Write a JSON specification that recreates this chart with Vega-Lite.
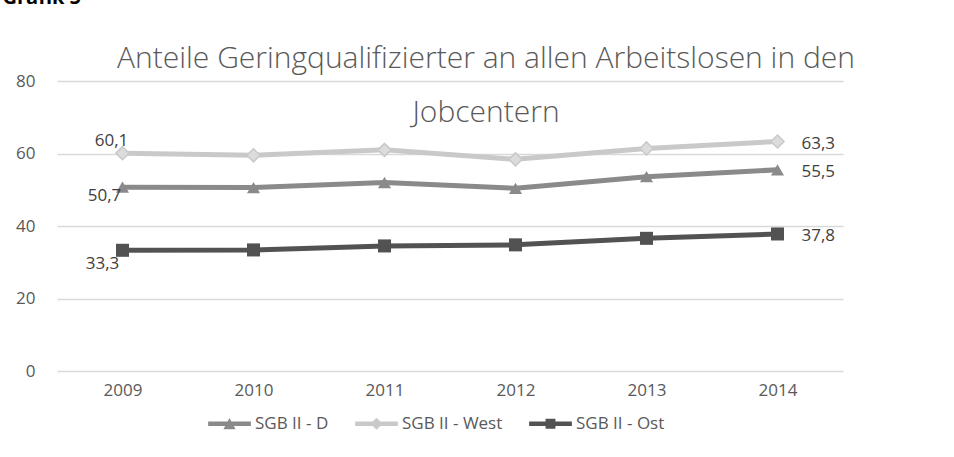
{
  "$schema": "https://vega.github.io/schema/vega-lite/v6.json",
  "width": 786,
  "height": 290,
  "autosize": {"type": "none"},
  "padding": {"left": 57, "top": 81, "right": 111, "bottom": 86},
  "background": "white",
  "config": {
    "font": "Open Sans",
    "view": {"stroke": null},
    "locale": {"number": {"decimal": ",", "thousands": ".", "grouping": [3], "currency": ["", " €"]}},
    "axis": {"labelFont": "Open Sans", "labelFontSize": 17, "labelColor": "#595959"}
  },
  "title": {
    "text": ["Anteile Geringqualifizierter an allen Arbeitslosen in den", "Jobcentern"],
    "anchor": "middle",
    "orient": "top",
    "offset": -57,
    "dy": 84,
    "dx": 36,
    "fontSize": 30,
    "fontWeight": 300,
    "font": "Open Sans",
    "color": "#595959",
    "lineHeight": 54
  },
  "data": {
    "values": [
      {"year": "2009", "series": "SGB II - D", "value": 50.7},
      {"year": "2010", "series": "SGB II - D", "value": 50.6},
      {"year": "2011", "series": "SGB II - D", "value": 52.0},
      {"year": "2012", "series": "SGB II - D", "value": 50.4},
      {"year": "2013", "series": "SGB II - D", "value": 53.6},
      {"year": "2014", "series": "SGB II - D", "value": 55.5},
      {"year": "2009", "series": "SGB II - West", "value": 60.1},
      {"year": "2010", "series": "SGB II - West", "value": 59.5},
      {"year": "2011", "series": "SGB II - West", "value": 61.0},
      {"year": "2012", "series": "SGB II - West", "value": 58.4},
      {"year": "2013", "series": "SGB II - West", "value": 61.4},
      {"year": "2014", "series": "SGB II - West", "value": 63.3},
      {"year": "2009", "series": "SGB II - Ost", "value": 33.3},
      {"year": "2010", "series": "SGB II - Ost", "value": 33.4},
      {"year": "2011", "series": "SGB II - Ost", "value": 34.5},
      {"year": "2012", "series": "SGB II - Ost", "value": 34.8},
      {"year": "2013", "series": "SGB II - Ost", "value": 36.6},
      {"year": "2014", "series": "SGB II - Ost", "value": 37.8}
    ]
  },
  "encoding": {
    "x": {
      "field": "year", "type": "ordinal",
      "scale": {"type": "point", "padding": 0.5},
      "axis": {"title": null, "labelAngle": 0, "domain": false, "ticks": false, "labelPadding": 11, "grid": false}
    },
    "y": {
      "field": "value", "type": "quantitative",
      "scale": {"domain": [0, 80], "nice": false},
      "axis": {
        "values": [0, 20, 40, 60, 80],
        "domain": false, "ticks": false, "labelPadding": 22,
        "gridColor": "#d9d9d9", "gridWidth": 1.5,
        "title": "Grafik 5", "titleAngle": 0, "titleAlign": "left", "titleBaseline": "alphabetic",
        "titleX": -55, "titleY": -78, "titleFontSize": 20, "titleFontWeight": "bold", "titleColor": "#000000", "titleFont": "Open Sans"
      }
    }
  },
  "resolve": {"scale": {"shape": "independent", "color": "independent"}},
  "layer": [
    {
      "mark": {"type": "line", "strokeWidth": 5},
      "encoding": {
        "color": {"field": "series", "type": "nominal",
          "scale": {"domain": ["SGB II - D", "SGB II - West", "SGB II - Ost"], "range": ["#8a8a8a", "#c9c9c9", "#525252"]},
          "legend": null}
      }
    },
    {
      "mark": {"type": "point", "filled": true, "opacity": 1},
      "encoding": {
        "color": {"field": "series", "type": "nominal",
          "scale": {"domain": ["SGB II - D", "SGB II - West", "SGB II - Ost"], "range": ["#8a8a8a", "#dcdcdc", "#525252"]},
          "legend": null},
        "stroke": {"value": "#c9c9c9"},
        "strokeWidth": {"condition": {"test": "datum.series == 'SGB II - West'", "value": 1.5}, "value": 0},
        "shape": {"field": "series", "type": "nominal",
          "scale": {"domain": ["SGB II - D", "SGB II - West", "SGB II - Ost"], "range": ["triangle-up", "diamond", "square"]},
          "legend": null},
        "size": {"field": "series", "type": "nominal",
          "scale": {"domain": ["SGB II - D", "SGB II - West", "SGB II - Ost"], "range": [170, 170, 220]},
          "legend": null}
      }
    },
    {
      "mark": {"type": "point", "filled": true, "opacity": 0},
      "encoding": {
        "color": {"field": "series", "type": "nominal",
          "scale": {"domain": ["SGB II - D", "SGB II - West", "SGB II - Ost"], "range": ["#8a8a8a", "#c9c9c9", "#525252"]},
          "legend": {
            "title": null, "orient": "none", "direction": "horizontal",
            "legendX": 150, "legendY": 320,
            "symbolSize": 2025, "symbolStrokeWidth": 0, "symbolOpacity": 1,
            "labelFontSize": 17, "labelColor": "#595959", "labelFont": "Open Sans", "labelOffset": 3,
            "columnPadding": 25, "padding": 0
          }},
        "shape": {"field": "series", "type": "nominal",
          "scale": {"domain": ["SGB II - D", "SGB II - West", "SGB II - Ost"],
            "range": [
              "M-0.95,-0.1 H0.95 V0.1 H-0.95 Z M-0.27,0.24 L0,-0.26 L0.27,0.24 Z",
              "M-0.95,-0.1 H0.95 V0.1 H-0.95 Z M0,-0.27 L0.27,0 L0,0.27 L-0.27,0 Z",
              "M-0.95,-0.1 H0.95 V0.1 H-0.95 Z M-0.22,-0.22 H0.22 V0.22 H-0.22 Z"
            ]},
          "legend": {
            "title": null, "orient": "none", "direction": "horizontal",
            "legendX": 150, "legendY": 320,
            "symbolSize": 2025, "symbolStrokeWidth": 0, "symbolOpacity": 1,
            "labelFontSize": 17, "labelColor": "#595959", "labelFont": "Open Sans", "labelOffset": 3,
            "columnPadding": 25, "padding": 0
          }}
      }
    },
    {
      "transform": [{"filter": "datum.year == '2014'"}],
      "mark": {"type": "text", "align": "left", "baseline": "middle", "dx": 24, "dy": 2, "fontSize": 17, "color": "#404040", "font": "Open Sans"},
      "encoding": {"text": {"field": "value", "type": "quantitative", "format": ".1f"}}
    },
    {
      "transform": [{"filter": "datum.year == '2009' && datum.series == 'SGB II - West'"}],
      "mark": {"type": "text", "align": "center", "baseline": "middle", "dx": -11, "dy": -12, "fontSize": 17, "color": "#404040", "font": "Open Sans"},
      "encoding": {"text": {"field": "value", "type": "quantitative", "format": ".1f"}}
    },
    {
      "transform": [{"filter": "datum.year == '2009' && datum.series == 'SGB II - D'"}],
      "mark": {"type": "text", "align": "center", "baseline": "middle", "dx": -18, "dy": 9, "fontSize": 17, "color": "#404040", "font": "Open Sans"},
      "encoding": {"text": {"field": "value", "type": "quantitative", "format": ".1f"}}
    },
    {
      "transform": [{"filter": "datum.year == '2009' && datum.series == 'SGB II - Ost'"}],
      "mark": {"type": "text", "align": "center", "baseline": "middle", "dx": -20, "dy": 14, "fontSize": 17, "color": "#404040", "font": "Open Sans"},
      "encoding": {"text": {"field": "value", "type": "quantitative", "format": ".1f"}}
    }
  ]
}
